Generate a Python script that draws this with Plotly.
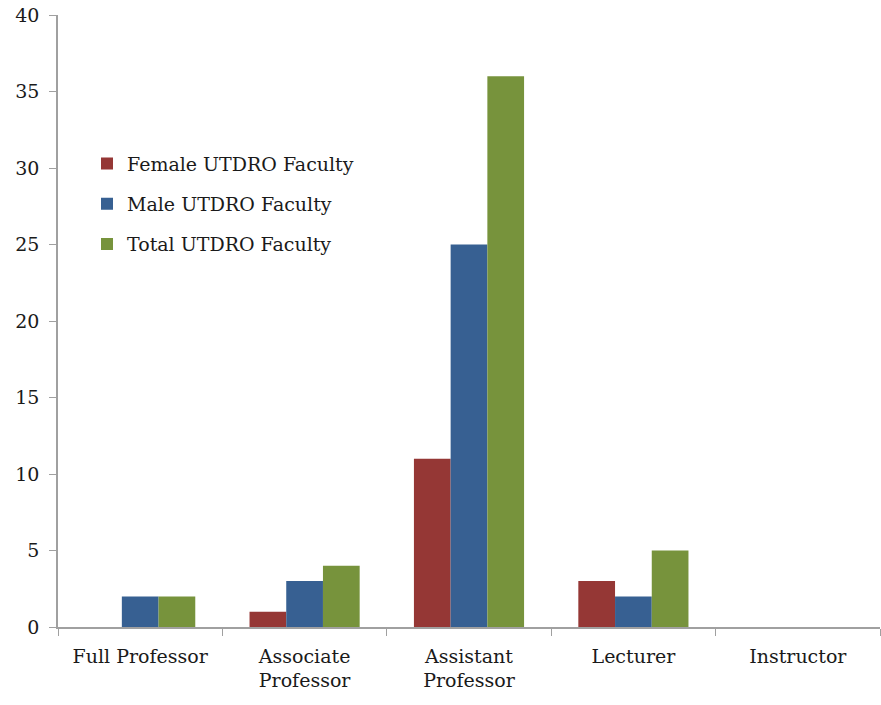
import plotly.graph_objects as go

categories = ["Full Professor", "Associate<br>Professor", "Assistant<br>Professor", "Lecturer", "Instructor"]
female = [0, 1, 11, 3, 0]
male = [2, 3, 25, 2, 0]
total = [2, 4, 36, 5, 0]

series = [
    ("Female UTDRO Faculty", female, "#953735"),
    ("Male UTDRO Faculty", male, "#376092"),
    ("Total UTDRO Faculty", total, "#77933C"),
]

FONT = "DejaVu Serif"
AXC = "#a0a0a0"

fig = go.Figure()
for i, (name, vals, col) in enumerate(series):
    fig.add_trace(go.Bar(
        name=name, x=categories, y=vals, marker=dict(color=col, line=dict(width=0)),
        legendgroup=f"g{i}",
    ))

fig.update_layout(
    width=881, height=705,
    paper_bgcolor="white", plot_bgcolor="white",
    margin=dict(l=58, r=1, t=15, b=78, autoexpand=False),
    barmode="group", bargap=0.33, bargroupgap=0,
    font=dict(family=FONT, size=19, color="#1a1a1a"),
    showlegend=True,
    legend=dict(
        x=(87 - 58) / 822, y=0.788, xanchor="left", yanchor="top",
        bgcolor="rgba(0,0,0,0)", font=dict(family=FONT, size=19, color="#1a1a1a"),
        tracegroupgap=12.5, itemwidth=30,
    ),
)
fig.update_xaxes(
    showline=True, linecolor=AXC, linewidth=1.5,
    ticks="outside", tickson="boundaries", ticklen=7, tickcolor=AXC,
    showgrid=False, tickfont=dict(size=19), automargin=False, ticklabelstandoff=11,
)
fig.update_yaxes(
    range=[0, 40], dtick=5, showline=True, linecolor=AXC, linewidth=1.5,
    ticks="outside", ticklen=7, tickcolor=AXC, showgrid=False, zeroline=False,
    tickfont=dict(size=19), ticklabelstandoff=6, automargin=False,
)

fig.write_html(
    "out.html",
    config={"displayModeBar": False},
    post_script="document.body.style.margin='0';",
)
